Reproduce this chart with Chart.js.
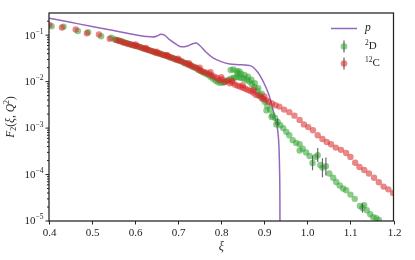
<!DOCTYPE html>
<html>
<head>
<meta charset="utf-8">
<script src="https://cdn.jsdelivr.net/npm/chart.js"></script>
<style>
  body { margin: 0; background: #fff; }
  canvas { display: block; }
</style>
</head>
<body>
<canvas id="chart" width="415" height="260"></canvas>
<script>
// tick positions / labels
var xTicks = [0.4, 0.5, 0.6, 0.7, 0.8, 0.9, 1.0, 1.1, 1.2];
var xTickLabels = ['0.4', '0.5', '0.6', '0.7', '0.8', '0.9', '1.0', '1.1', '1.2'];
var yMajor = [1e-5, 1e-4, 1e-3, 1e-2, 1e-1];
var yMajorExp = ['\u22125', '\u22124', '\u22123', '\u22122', '\u22121'];

// p (purple line)
var pXi = [0.400, 0.450, 0.500, 0.550, 0.600, 0.625, 0.640, 0.650, 0.660, 0.668, 0.680, 0.695, 0.708,
           0.720, 0.735, 0.742, 0.750, 0.765, 0.780, 0.800, 0.820, 0.840, 0.860, 0.870, 0.880, 0.890,
           0.900, 0.910, 0.920, 0.926, 0.931, 0.934, 0.9355, 0.9362, 0.9366];
var pF = [0.232, 0.189, 0.154, 0.126, 0.102, 0.094, 0.091, 0.095, 0.104, 0.100, 0.080, 0.064, 0.056,
          0.058, 0.066, 0.068, 0.060, 0.043, 0.033, 0.027, 0.024, 0.0232, 0.0226, 0.0215, 0.0180, 0.0135,
          0.0090, 0.0054, 0.0025, 0.0015, 0.0009, 0.0004, 0.00012, 0.00003, 0.000001];

// 2D (green)
var d2Xi = [0.406, 0.434, 0.467, 0.491, 0.521, 0.545,
  0.553, 0.559, 0.565, 0.571, 0.577, 0.583, 0.589, 0.595, 0.601, 0.607, 0.613, 0.619, 0.625, 0.631,
  0.637, 0.643, 0.649, 0.655, 0.661, 0.667, 0.673, 0.679, 0.685, 0.691, 0.697, 0.703, 0.709, 0.715,
  0.721, 0.727, 0.733, 0.739, 0.745, 0.751, 0.757, 0.763, 0.769, 0.775, 0.781, 0.787, 0.793, 0.799,
  0.805, 0.811, 0.817, 0.823, 0.829, 0.835, 0.841, 0.847, 0.853, 0.859, 0.865, 0.871, 0.877, 0.883,
  0.889, 0.895, 0.901, 0.907, 0.913, 0.919, 0.925, 0.931,
  0.937, 0.944, 0.951, 0.958, 0.966, 0.974, 0.982, 0.989, 0.997, 1.005, 1.012, 1.019, 1.024, 1.030,
  1.035, 1.043, 1.051, 1.060, 1.067, 1.075, 1.083, 1.090, 1.100, 1.110, 1.122, 1.128, 1.132, 1.138,
  1.146, 1.153, 1.160, 1.166,
  0.822, 0.828, 0.836, 0.842,
  0.838, 0.846, 0.854, 0.862, 0.870, 0.878, 0.886, 0.894,
  0.905, 0.917, 0.928, 0.982];
var d2F = [0.155, 0.153, 0.123, 0.116, 0.095, 0.088,
  0.081, 0.078, 0.075, 0.072, 0.069, 0.066, 0.064, 0.061, 0.059, 0.057, 0.055, 0.052, 0.050, 0.048,
  0.046, 0.044, 0.042, 0.041, 0.039, 0.037, 0.036, 0.034, 0.033, 0.031, 0.030, 0.028, 0.027, 0.025,
  0.024, 0.023, 0.021, 0.020, 0.0185, 0.0172, 0.0160, 0.0150, 0.0140, 0.0128, 0.0115, 0.0104, 0.0097, 0.0094,
  0.0096, 0.0102, 0.0110, 0.0116, 0.0121, 0.0124, 0.0124, 0.0120, 0.0116, 0.0110, 0.0100, 0.0088, 0.0076, 0.0064,
  0.0052, 0.0043, 0.0037, 0.0030, 0.0025, 0.0019, 0.00165, 0.00135,
  0.00115, 0.00100, 0.00083, 0.00070, 0.00055, 0.00048, 0.00045, 0.00036, 0.00030, 0.00025, 0.000178, 0.00024, 0.00026, 0.00016,
  0.000141, 0.000151, 0.000105, 0.000085, 0.000069, 0.000058, 0.000050, 0.000046, 0.000037, 0.000030, 0.000021, 0.000019, 0.000022, 0.000017,
  0.000014, 0.000012, 0.0000115, 0.0000105,
  0.0178, 0.0182, 0.0170, 0.0165,
  0.0150, 0.0148, 0.0140, 0.0128, 0.0110, 0.0092, 0.0072, 0.0055,
  0.0024, 0.00174, 0.0012, 0.00033];

// 2D error bars (only the ones wider than a marker)
var errXi = [0.931, 1.012, 1.024, 1.035, 1.043, 1.128];
var errLo = [0.00115, 0.000123, 0.000186, 0.000087, 0.000095, 0.0000151];
var errHi = [0.00160, 0.000257, 0.000372, 0.000224, 0.000234, 0.000024];

// 12C (red)
var c12Xi = [0.401, 0.430, 0.462, 0.488, 0.516, 0.541,
  0.556, 0.562, 0.568, 0.574, 0.580, 0.586, 0.592, 0.598, 0.604, 0.610, 0.616, 0.622, 0.628, 0.634,
  0.640, 0.646, 0.652, 0.658, 0.664, 0.670, 0.676, 0.682, 0.688, 0.694, 0.700, 0.706, 0.712, 0.718,
  0.724, 0.730, 0.736, 0.742, 0.748, 0.754, 0.760, 0.766, 0.772, 0.778, 0.784, 0.790, 0.796, 0.802,
  0.808, 0.814, 0.820, 0.826, 0.832, 0.838, 0.844, 0.850, 0.856, 0.862, 0.868, 0.874, 0.880, 0.886,
  0.892, 0.898, 0.904, 0.910,
  0.918, 0.926, 0.935, 0.946, 0.958, 0.970, 0.982, 0.992, 1.002, 1.013, 1.024, 1.035, 1.045, 1.055,
  1.066, 1.078, 1.090, 1.100, 1.111, 1.121, 1.132, 1.143, 1.155, 1.166, 1.177, 1.188, 1.199,
  0.601, 0.625, 0.650, 0.675, 0.700, 0.725, 0.750, 0.775, 0.800, 0.825, 0.850, 0.875, 0.900];
var c12F = [0.166, 0.146, 0.132, 0.110, 0.103, 0.084,
  0.079, 0.076, 0.073, 0.069, 0.067, 0.064, 0.062, 0.060, 0.058, 0.056, 0.053, 0.051, 0.049, 0.047,
  0.045, 0.043, 0.041, 0.040, 0.038, 0.037, 0.035, 0.033, 0.032, 0.030, 0.029, 0.028, 0.026, 0.025,
  0.023, 0.022, 0.021, 0.020, 0.018, 0.017, 0.016, 0.0155, 0.0145, 0.0135, 0.0128, 0.0120, 0.0108, 0.0112,
  0.0098, 0.0104, 0.0092, 0.0096, 0.0086, 0.0082, 0.0078, 0.0074, 0.0070, 0.0066, 0.0063, 0.0058, 0.0052, 0.0050,
  0.0047, 0.0043, 0.0040, 0.0037,
  0.0034, 0.0031, 0.0029, 0.0025, 0.0022, 0.00185, 0.00150, 0.00120, 0.00105, 0.00090, 0.00070, 0.00058, 0.00050, 0.00045,
  0.00038, 0.00034, 0.00029, 0.00024, 0.00018, 0.000145, 0.000125, 0.000105, 0.000085, 0.000068, 0.000055, 0.000048, 0.000040,
  0.063, 0.053, 0.044, 0.037, 0.031, 0.025, 0.020, 0.0160, 0.0125, 0.0105, 0.0084, 0.0066, 0.0048];

var SERIF = '"Liberation Serif", "DejaVu Serif", serif';
var PURPLE = '#9467bd';
var GREEN = 'rgba(44, 160, 44, 0.55)';
var RED = 'rgba(214, 39, 40, 0.55)';
var AXIS = '#222';

function toPoints(xs, ys) {
    return xs.map(function (v, i) { return { x: v, y: ys[i] }; });
}

// draws text pieces one after another: [text, fontSize, italic, dy]
function drawRuns(ctx, runs, x, y) {
    runs.forEach(function (r) {
        ctx.font = (r[2] ? 'italic ' : '') + r[1] + 'px ' + SERIF;
        ctx.fillText(r[0], x, y + (r[3] || 0));
        x += ctx.measureText(r[0]).width;
    });
}
function runsWidth(ctx, runs) {
    var w = 0;
    runs.forEach(function (r) {
        ctx.font = (r[2] ? 'italic ' : '') + r[1] + 'px ' + SERIF;
        w += ctx.measureText(r[0]).width;
    });
    return w;
}

var decor = {
    id: 'decor',
    afterDatasetsDraw: function (chart) {
        var ctx = chart.ctx, x = chart.scales.x, y = chart.scales.y, a = chart.chartArea;
        ctx.save();
        ctx.beginPath();
        ctx.rect(a.left, a.top, a.right - a.left, a.bottom - a.top);
        ctx.clip();
        ctx.strokeStyle = 'rgba(80, 80, 80, 0.85)';
        ctx.lineWidth = 1.2;
        errXi.forEach(function (v, i) {
            var px = x.getPixelForValue(v);
            ctx.beginPath();
            ctx.moveTo(px, y.getPixelForValue(errLo[i]));
            ctx.lineTo(px, y.getPixelForValue(errHi[i]));
            ctx.stroke();
        });
        ctx.restore();
    },
    afterDraw: function (chart) {
        var ctx = chart.ctx, x = chart.scales.x, y = chart.scales.y, a = chart.chartArea;
        ctx.save();

        // spines
        ctx.strokeStyle = AXIS;
        ctx.lineWidth = 1.25;
        ctx.strokeRect(a.left, a.top, a.right - a.left, a.bottom - a.top);

        // x ticks + labels
        ctx.lineWidth = 1;
        ctx.fillStyle = AXIS;
        ctx.textBaseline = 'middle';
        xTicks.forEach(function (v, i) {
            var px = Math.round(x.getPixelForValue(v)) + 0.5;
            ctx.beginPath();
            ctx.moveTo(px, a.bottom);
            ctx.lineTo(px, a.bottom + 3.5);
            ctx.stroke();
            var run = [[xTickLabels[i], 11, false, 0]];
            drawRuns(ctx, run, px - runsWidth(ctx, run) / 2, 233.5);
        });

        // y ticks, major and minor
        yMajor.forEach(function (v, i) {
            var py = y.getPixelForValue(v);
            ctx.beginPath();
            ctx.moveTo(a.left - 3.5, py);
            ctx.lineTo(a.left, py);
            ctx.stroke();
            for (var m = 2; m <= 9; m++) {
                var mv = v * m;
                if (mv > y.max) break;
                var my = y.getPixelForValue(mv);
                ctx.beginPath();
                ctx.moveTo(a.left - 2, my);
                ctx.lineTo(a.left, my);
                ctx.stroke();
            }
            // label 10^n
            var runs = [['10', 11, false, 0], [yMajorExp[i], 7.5, false, -4]];
            var w = runsWidth(ctx, runs);
            drawRuns(ctx, runs, a.left - 5.5 - w, py + 0.5);
        });

        // x title
        var xt = [['\u03be', 12, true, 0]];
        drawRuns(ctx, xt, (a.left + a.right) / 2 - runsWidth(ctx, xt) / 2, 247);

        // y title, rotated
        ctx.save();
        ctx.translate(11, (a.top + a.bottom) / 2);
        ctx.rotate(-Math.PI / 2);
        var yt = [['F', 11.5, true, 0], ['2', 8, false, 2.5], ['(', 11.5, false, 0], ['\u03be', 11.5, true, 0],
                  [', ', 11.5, false, 0], ['Q', 11.5, true, 0], ['2', 8, false, -4], [')', 11.5, false, 0]];
        drawRuns(ctx, yt, -runsWidth(ctx, yt) / 2, 0);
        ctx.restore();

        // legend
        var lx = 344, tx = 365;
        ctx.strokeStyle = PURPLE;
        ctx.lineWidth = 1.5;
        ctx.beginPath();
        ctx.moveTo(331, 28.5);
        ctx.lineTo(357, 28.5);
        ctx.stroke();
        ctx.fillStyle = AXIS;
        drawRuns(ctx, [['p', 11.5, true, 0]], tx, 27.5);

        [[46.5, GREEN, [['2', 7.5, false, -3.5], ['D', 11, false, 0]]],
         [63.5, RED, [['12', 7.5, false, -3.5], ['C', 11, false, 0]]]].forEach(function (it) {
            ctx.strokeStyle = 'rgba(80, 80, 80, 0.9)';
            ctx.lineWidth = 1.2;
            ctx.beginPath();
            ctx.moveTo(lx, it[0] - 6);
            ctx.lineTo(lx, it[0] + 6);
            ctx.stroke();
            ctx.fillStyle = it[1];
            ctx.beginPath();
            ctx.arc(lx, it[0], 3.3, 0, Math.PI * 2);
            ctx.fill();
            ctx.fillStyle = AXIS;
            drawRuns(ctx, it[2], tx, it[0]);
        });

        ctx.restore();
    }
};

new Chart(document.getElementById('chart'), {
    type: 'scatter',
    data: {
        datasets: [
            {
                label: '12C',
                data: toPoints(c12Xi, c12F),
                backgroundColor: RED,
                borderWidth: 0,
                pointRadius: 3.2,
                order: 0
            },
            {
                label: '2D',
                data: toPoints(d2Xi, d2F),
                backgroundColor: GREEN,
                borderWidth: 0,
                pointRadius: 3.2,
                order: 1
            },
            {
                label: 'p',
                type: 'line',
                data: toPoints(pXi, pF),
                borderColor: PURPLE,
                borderWidth: 1.5,
                pointRadius: 0,
                fill: false,
                cubicInterpolationMode: 'monotone',
                order: 2
            }
        ]
    },
    options: {
        responsive: false,
        animation: false,
        devicePixelRatio: 1,
        layout: { padding: { top: 13, right: 21.5, left: 0, bottom: 0 } },
        plugins: { legend: { display: false }, tooltip: { enabled: false } },
        scales: {
            x: {
                type: 'linear',
                min: 0.4,
                max: 1.2,
                grid: { display: false },
                border: { display: false },
                ticks: { display: false },
                afterFit: function (s) { s.height = 39; }
            },
            y: {
                type: 'logarithmic',
                min: 1e-5,
                max: 0.3,
                grid: { display: false },
                border: { display: false },
                ticks: { display: false },
                afterFit: function (s) { s.width = 49; }
            }
        }
    },
    plugins: [decor]
});
</script>
</body>
</html>
